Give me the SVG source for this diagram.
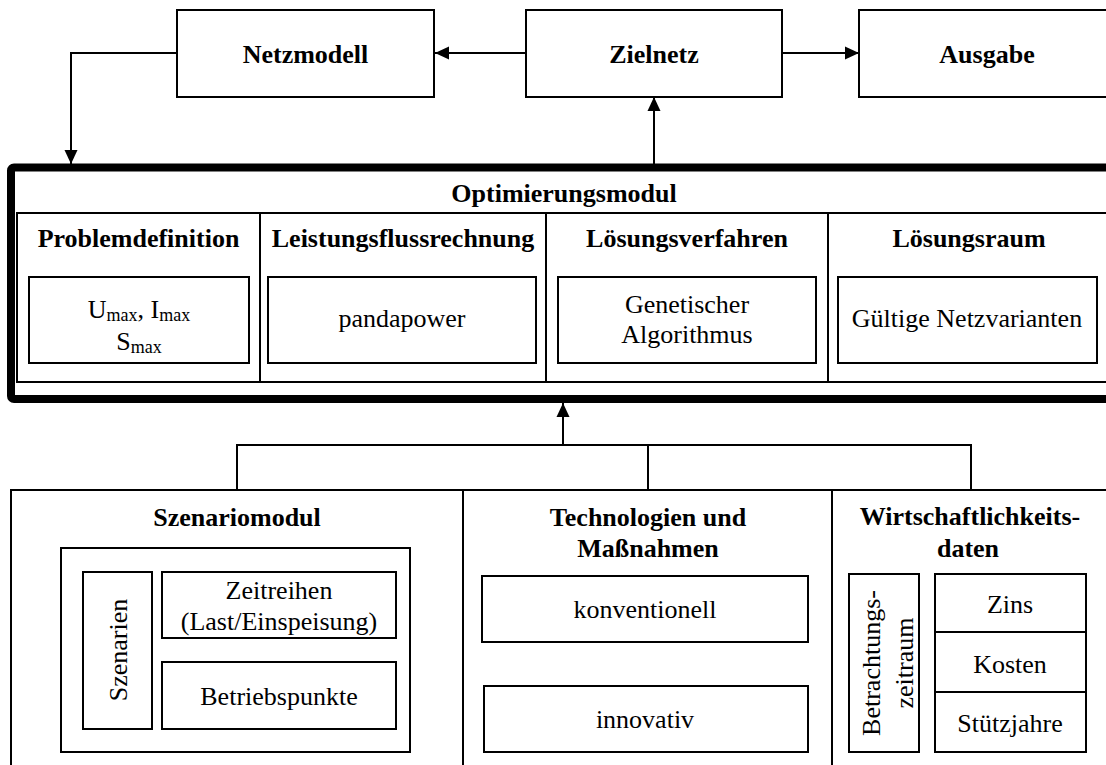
<svg xmlns="http://www.w3.org/2000/svg" width="1106" height="765" viewBox="0 0 1106 765">
  <style>
    .box { fill: #fff; stroke: #000; stroke-width: 2; }
    .thick { fill: #fff; stroke: #000; stroke-width: 8; }
    .line { fill: none; stroke: #000; stroke-width: 2; }
    .arr { marker-end: url(#arrow); }
    text { font-family: "Liberation Serif", "Times New Roman", serif; font-size: 26px; fill: #000; text-anchor: middle; }
    .b { font-weight: bold; }
    .sub { font-size: 18px; }
  </style>
  <defs>
    <marker id="arrow" viewBox="0 0 14 14" refX="14" refY="7" markerWidth="14" markerHeight="14" orient="auto" markerUnits="userSpaceOnUse">
      <path d="M0,0.5 L14,7 L0,13.5 Z" fill="#000"/>
    </marker>
  </defs>

  <rect width="1106" height="765" fill="#fff"/>

  <!-- top row -->
  <g id="netzmodell">
    <rect class="box" x="177" y="10" width="257" height="87"/>
    <text class="b" x="305.5" y="63">Netzmodell</text>
  </g>
  <g id="zielnetz">
    <rect class="box" x="526" y="10" width="256" height="87"/>
    <text class="b" x="654" y="63">Zielnetz</text>
  </g>
  <g id="ausgabe">
    <rect class="box" x="859" y="10" width="257" height="87"/>
    <text class="b" x="987" y="63">Ausgabe</text>
  </g>

  <!-- optimisation module -->
  <g id="optimierungsmodul">
    <rect class="thick" x="11" y="167.5" width="1110" height="231.5" rx="3"/>
    <text class="b" x="564" y="202">Optimierungsmodul</text>
    <rect class="box" x="17" y="213" width="1100" height="169"/>
    <line class="line" x1="260" y1="213" x2="260" y2="382"/>
    <line class="line" x1="546" y1="213" x2="546" y2="382"/>
    <line class="line" x1="828" y1="213" x2="828" y2="382"/>
  </g>
  <g id="problemdefinition">
    <text class="b" x="138.5" y="247">Problemdefinition</text>
    <rect class="box" x="29" y="277" width="220" height="86"/>
    <!-- limits: two lines with subscripts in one text block -->
    <text x="139" y="318">U<tspan class="sub" dy="3">max</tspan><tspan dy="-3">, I</tspan><tspan class="sub" dy="3">max</tspan><tspan x="139" y="350">S</tspan><tspan class="sub" dy="3">max</tspan></text>
  </g>
  <g id="leistungsflussrechnung">
    <text class="b" x="403" y="247">Leistungsflussrechnung</text>
    <rect class="box" x="268" y="277" width="268" height="86"/>
    <text x="402" y="327">pandapower</text>
  </g>
  <g id="loesungsverfahren">
    <text class="b" x="687" y="247">Lösungsverfahren</text>
    <rect class="box" x="558" y="277" width="258" height="86"/>
    <text x="687" y="313">Genetischer</text>
    <text x="687" y="343">Algorithmus</text>
  </g>
  <g id="loesungsraum">
    <text class="b" x="969" y="247">Lösungsraum</text>
    <rect class="box" x="838" y="277" width="259" height="86"/>
    <text x="967" y="327">Gültige Netzvarianten</text>
  </g>

  <!-- input modules -->
  <g id="szenariomodul">
    <rect class="box" x="11" y="490" width="452" height="300"/>
    <text class="b" x="237" y="526">Szenariomodul</text>
    <rect class="box" x="61" y="548" width="349" height="204"/>
    <rect class="box" x="83" y="572" width="69" height="157"/>
    <text transform="translate(127,650) rotate(-90)">Szenarien</text>
    <rect class="box" x="162" y="572" width="234" height="66"/>
    <text x="279" y="599">Zeitreihen</text>
    <text x="279" y="630">(Last/Einspeisung)</text>
    <rect class="box" x="162" y="662" width="234" height="67"/>
    <text x="279" y="705">Betriebspunkte</text>
  </g>
  <g id="technologien">
    <rect class="box" x="463" y="490" width="369" height="300"/>
    <text class="b" x="648" y="526">Technologien und</text>
    <text class="b" x="648" y="557">Maßnahmen</text>
    <rect class="box" x="482" y="576" width="326" height="66"/>
    <text x="645" y="618">konventionell</text>
    <rect class="box" x="484" y="686" width="324" height="66"/>
    <text x="645" y="728">innovativ</text>
  </g>
  <g id="wirtschaftlichkeit">
    <rect class="box" x="832" y="490" width="300" height="300"/>
    <text class="b" x="970" y="525">Wirtschaftlichkeits-</text>
    <text class="b" x="968" y="557">daten</text>
    <rect class="box" x="849" y="574" width="70" height="178"/>
    <text transform="translate(880,663) rotate(-90)">Betrachtungs-</text>
    <text transform="translate(913,663) rotate(-90)">zeitraum</text>
    <rect class="box" x="935" y="574" width="151" height="58"/>
    <rect class="box" x="935" y="632" width="151" height="60"/>
    <rect class="box" x="935" y="692" width="151" height="60"/>
    <text x="1010" y="613">Zins</text>
    <text x="1010" y="673">Kosten</text>
    <text x="1010" y="732">Stützjahre</text>
  </g>

  <!-- connectors -->
  <g id="connectors">
    <path class="line arr" d="M526,53 L435,53"/>
    <path class="line arr" d="M782,53 L859,53"/>
    <path class="line arr" d="M177,53 L71,53 L71,164"/>
    <path class="line arr" d="M654,164 L654,97"/>
    <path class="line" d="M237,490 L237,445 L971,445 L971,490"/>
    <path class="line" d="M648,490 L648,445"/>
    <path class="line arr" d="M563,445 L563,403"/>
  </g>
</svg>
